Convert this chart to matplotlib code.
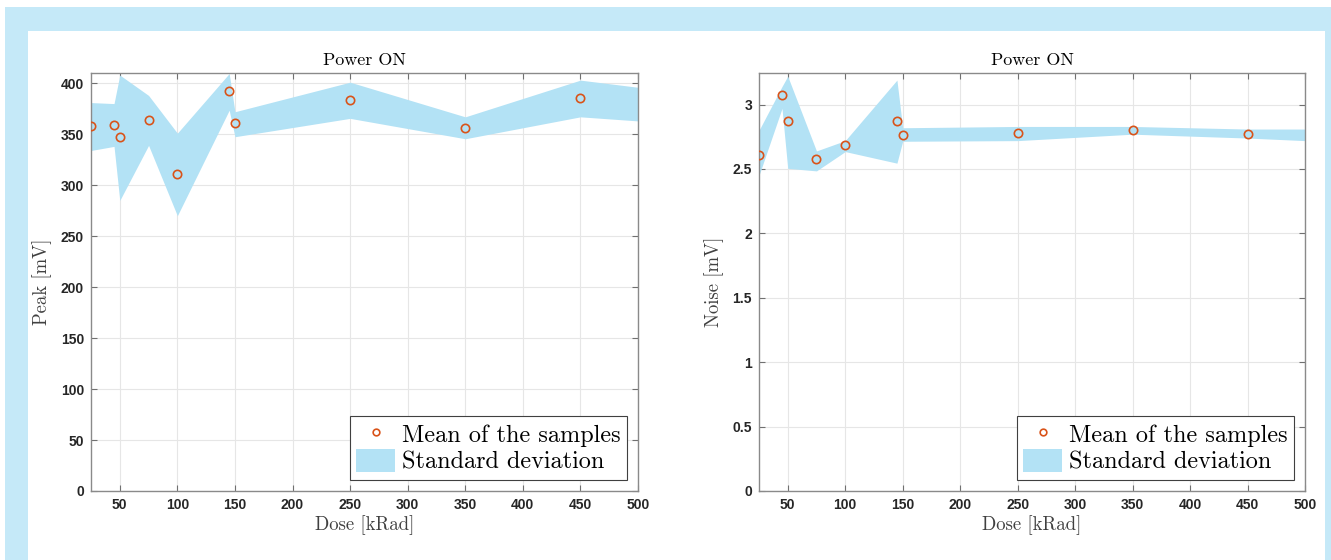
import matplotlib
matplotlib.use("Agg")
import matplotlib.pyplot as plt
from matplotlib.patches import Rectangle

# dose points of the means
dose = [25, 45, 50, 75, 100, 145, 150, 250, 350, 450]
peak_mean = [358, 359, 347, 363.5, 311, 392, 360.5, 384, 356.5, 385.5]
noise_mean = [2.607, 3.072, 2.873, 2.574, 2.687, 2.871, 2.767, 2.778, 2.80, 2.775]

# standard deviation band (edges)
band_dose = [25, 45, 50, 75, 100, 145, 150, 250, 350, 450, 500]
peak_upper = [381, 380, 408, 388, 351, 409.5, 372, 401, 367, 403, 396]
peak_lower = [334, 338, 285, 339, 270, 373.5, 347.5, 365.5, 345.5, 367, 363]
noise_upper = [2.80, 3.14, 3.22, 2.64, 2.72, 3.19, 2.82, 2.83, 2.83, 2.81, 2.81]
noise_lower = [2.45, 2.97, 2.505, 2.485, 2.635, 2.545, 2.715, 2.72, 2.77, 2.74, 2.72]

peak_ticks = [0, 50, 100, 150, 200, 250, 300, 350, 400]
noise_ticks = [0, 0.5, 1, 1.5, 2, 2.5, 3]
noise_ticklabels = ['0', '0.5', '1', '1.5', '2', '2.5', '3']
dose_ticks = [50, 100, 150, 200, 250, 300, 350, 400, 450, 500]

band_color = '#b3e2f5'
mark_color = '#d95319'
serif = 'cmr10'

fig = plt.figure(figsize=(13.31, 5.6), dpi=100)
fig.patch.set_facecolor('white')
# light blue frame around a white panel
fig.patches.append(Rectangle((5 / 1331, 0), 1, 1 - 7 / 560, transform=fig.transFigure,
                             facecolor='#c5e9f8', edgecolor='none', zorder=-2))
fig.patches.append(Rectangle((28 / 1331, 0), (1325 - 28) / 1331, 1 - 31 / 560,
                             transform=fig.transFigure, facecolor='white',
                             edgecolor='none', zorder=-1))


def draw(ax, mean, upper, lower, ylim, yticks, yticklabels, ylabel):
    ax.fill_between(band_dose, lower, upper, color=band_color, linewidth=0,
                    label='Standard deviation', zorder=1)
    ax.plot(dose, mean, 'o', mfc='none', mec=mark_color, ms=6, mew=1.2,
            label='Mean of the samples', zorder=3)
    ax.set_xlim(25, 500)
    ax.set_ylim(*ylim)
    ax.set_xticks(dose_ticks)
    ax.set_yticks(yticks)
    ax.set_yticklabels(yticklabels)
    ax.grid(True, color='#e6e6e6', linewidth=0.8, zorder=0)
    ax.set_axisbelow(True)
    ax.tick_params(direction='in', top=True, right=True, length=4,
                   color='#707070', labelsize=10, pad=5)
    for lab in ax.get_xticklabels() + ax.get_yticklabels():
        lab.set_fontfamily('Liberation Sans')
        lab.set_fontweight('bold')
        lab.set_color('#262626')
    for sp in ax.spines.values():
        sp.set_color('#8a8a8a')
        sp.set_linewidth(1.0)
    ax.set_title('Power ON', fontfamily=serif, fontsize=13, pad=6)
    ax.set_xlabel('Dose [kRad]', fontfamily=serif, fontsize=13.5, color='#404040', labelpad=2)
    ax.set_ylabel(ylabel, fontfamily=serif, fontsize=13.5, color='#404040', labelpad=6)
    handles, labels = ax.get_legend_handles_labels()
    leg = ax.legend(handles[::-1], labels[::-1], loc='lower right',
                    prop={'family': serif, 'size': 17.5}, frameon=True, fancybox=False,
                    framealpha=1, edgecolor='#404040', borderpad=0.25,
                    handlelength=1.6, handleheight=1.1, handletextpad=0.3,
                    labelspacing=0.1, borderaxespad=0.45, markerscale=0.8)
    leg.get_frame().set_linewidth(0.8)


ax1 = fig.add_axes([91 / 1331, 69 / 560, 547 / 1331, 418 / 560])
draw(ax1, peak_mean, peak_upper, peak_lower, (0, 410), peak_ticks,
     [str(t) for t in peak_ticks], 'Peak [mV]')

ax2 = fig.add_axes([759 / 1331, 69 / 560, 546 / 1331, 418 / 560])
draw(ax2, noise_mean, noise_upper, noise_lower, (0, 3.245), noise_ticks,
     noise_ticklabels, 'Noise [mV]')

fig.savefig('out.png', dpi=100)
